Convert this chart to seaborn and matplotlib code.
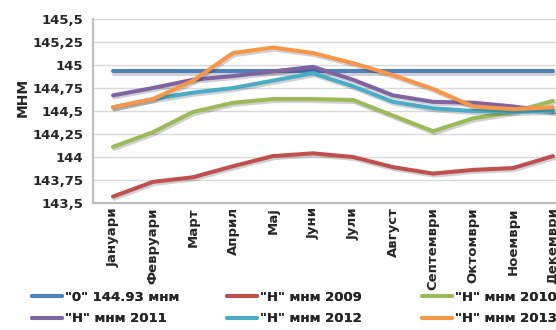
import numpy as np
import pandas as pd
import matplotlib
matplotlib.use('Agg')
import matplotlib.pyplot as plt
import matplotlib.patheffects as pe
from matplotlib.lines import Line2D
import seaborn as sns

months = ['Јануари', 'Февруари', 'Март', 'Април', 'Мај', 'Јуни', 'Јули',
          'Август', 'Септември', 'Октомври', 'Ноември', 'Декември']

zero_level = [144.93] * 12
h_2009 = [143.57, 143.73, 143.78, 143.90, 144.01, 144.04, 144.00, 143.89, 143.82, 143.86, 143.88, 144.01]
h_2010 = [144.11, 144.27, 144.49, 144.59, 144.63, 144.63, 144.62, 144.45, 144.28, 144.42, 144.49, 144.61]
h_2011 = [144.67, 144.75, 144.84, 144.88, 144.93, 144.98, 144.84, 144.67, 144.60, 144.59, 144.55, 144.49]
h_2012 = [144.54, 144.63, 144.70, 144.75, 144.83, 144.91, 144.77, 144.60, 144.53, 144.50, 144.49, 144.50]
h_2013 = [144.54, 144.63, 144.83, 145.13, 145.19, 145.13, 145.02, 144.89, 144.74, 144.55, 144.52, 144.54]

series_names = ['"0" 144.93 мнм', '"Н" мнм 2009', '"Н" мнм 2010',
                '"Н" мнм 2011', '"Н" мнм 2012', '"Н" мнм 2013']
series_values = [zero_level, h_2009, h_2010, h_2011, h_2012, h_2013]
colors = ['#4F81BD', '#C0504D', '#9BBB59', '#8064A2', '#4BACC6', '#F79646']

y_ticks = [143.5, 143.75, 144, 144.25, 144.5, 144.75, 145, 145.25, 145.5]

rows = []
for name, vals in zip(series_names, series_values):
    for m, v in zip(months, vals):
        rows.append({'Месец': m, 'МНМ': v, 'Серија': name})
df = pd.DataFrame(rows)

sns.set_style('white')
plt.rcParams['font.family'] = ['DejaVu Sans']
plt.rcParams['font.weight'] = 'bold'

W, H = 556, 330
fig = plt.figure(figsize=(W / 100, H / 100), dpi=100)
ax = fig.add_axes([93 / W, (H - 203) / H, 480 / W, 184 / H])

sns.lineplot(data=df, x='Месец', y='МНМ', hue='Серија', palette=colors,
             sort=False, linewidth=2.9, legend=False, ax=ax)

for ln in ax.lines:
    ln.set_solid_capstyle('round')
    ln.set_path_effects([pe.SimpleLineShadow(offset=(1, -1.5), alpha=0.18),
                         pe.Normal()])

ax.set_xlim(-0.5, 11.5)
ax.set_ylim(143.5, 145.5)
ax.set_yticks(y_ticks)
ax.set_yticklabels([f'{t:g}'.replace('.', ',') for t in y_ticks],
                   fontsize=9.5, fontweight='bold')
ax.set_xticks(range(12))
ax.set_xticklabels(months, rotation=90, fontsize=9.5, fontweight='bold',
                   va='top', ha='center')
ax.tick_params(axis='y', length=0, pad=7)
ax.tick_params(axis='x', length=0, pad=3)
ax.set_xlabel('')
ax.set_ylabel('')
ax.grid(axis='y', color='#D9D9D9', linewidth=1)
ax.set_axisbelow(True)
for side in ['top', 'right']:
    ax.spines[side].set_visible(False)
for side in ['left', 'bottom']:
    ax.spines[side].set_color('#BFBFBF')
    ax.spines[side].set_linewidth(1.6)

fig.text(23 / W, 1 - 97 / H, 'МНМ', rotation=90, ha='center', va='center',
         fontsize=10, fontweight='bold')

# three legend columns, as in the original layout
col_x = [32, 227, 422]
for c in range(3):
    idx = [c, c + 3]
    handles = [Line2D([], [], color=colors[i], linewidth=2.9,
                      solid_capstyle='round') for i in idx]
    leg = fig.legend(handles, [series_names[i] for i in idx],
                     loc='upper left', bbox_to_anchor=(col_x[c] / W, 1 - 291 / H),
                     frameon=False, borderpad=0, borderaxespad=0,
                     handlelength=2.3, handletextpad=0.2, labelspacing=0.62,
                     prop={'size': 9.5, 'weight': 'bold'})
    fig.add_artist(leg)

fig.savefig('out.png', dpi=100)
